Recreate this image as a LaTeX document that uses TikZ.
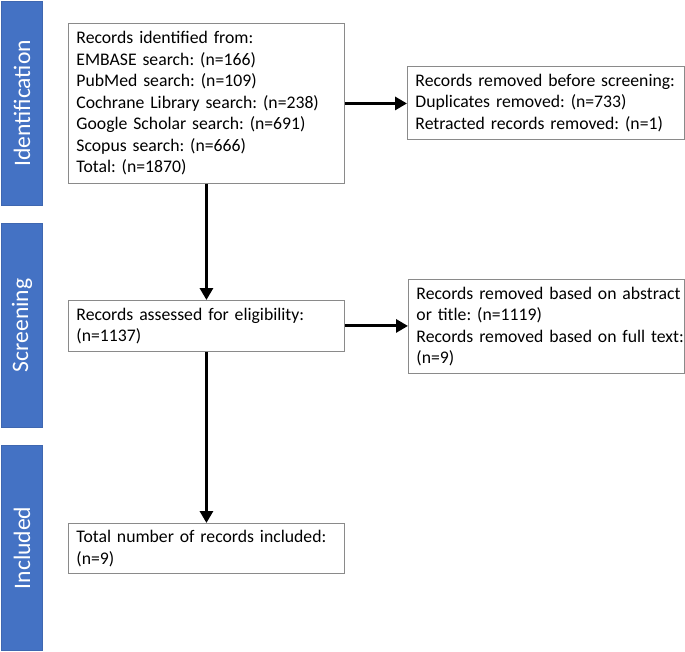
\documentclass[tikz,border=0pt]{standalone}
\usepackage{fontspec}
\setmainfont{Carlito}
\frenchspacing
\usetikzlibrary{arrows.meta}
\definecolor{barblue}{HTML}{4472C4}
\definecolor{barline}{HTML}{3F67B0}
\definecolor{boxline}{HTML}{8A8A8A}
\begin{document}
\begin{tikzpicture}[x=1pt,y=-1pt,
  box/.style={draw=boxline, line width=0.9pt, fill=white, anchor=north west,
    inner xsep=8pt, inner ysep=0pt, align=left,
    font=\fontsize{17.7}{21.5}\selectfont},
  bar/.style={draw=barline, fill=barblue, line width=0.9pt, anchor=north west,
    inner sep=0pt, minimum width=41pt},
  barlabel/.style={text=white, rotate=90, inner sep=0pt,
    font=\fontsize{23.6}{28}\selectfont},
  arr/.style={line width=3pt, -{Triangle[length=12pt,width=13pt]}}]
\useasboundingbox (0,0) rectangle (685,651);

% phase bars
\node[bar, minimum height=204pt] (bar1) at (1,1) {};
\node[bar, minimum height=204pt] (bar2) at (1,223) {};
\node[bar, minimum height=205pt] (bar3) at (1,445) {};
\node[barlabel] (lab1) at (bar1.center) {Identification};
\node[barlabel] (lab2) at (bar2.center) {Screening};
\node[barlabel] (lab3) at (bar3.center) {Included};

% boxes
\node[box, text width=260pt, minimum height=160pt] (b1) at (68,23)
  {Records identified from:\\
   EMBASE search: (n=166)\\
   PubMed search: (n=109)\\
   Cochrane Library search: (n=238)\\
   Google Scholar search: (n=691)\\
   Scopus search: (n=666)\\
   Total: (n=1870)};
\node[box, text width=261pt, minimum height=73pt] (b2) at (407,66)
  {\mbox{Records removed before screening:}\\
   Duplicates removed: (n=733)\\
   Retracted records removed: (n=1)};
\node[box, text width=260pt, minimum height=51pt] (b3) at (68,300)
  {Records assessed for eligibility:\\
   (n=1137)};
\node[box, text width=260pt, minimum height=94pt] (b4) at (408,279)
  {\mbox{Records removed based on abstract}\\
   or title: (n=1119)\\
   \mbox{Records removed based on full text:}\\
   (n=9)};
\node[box, text width=260pt, minimum height=50pt] (b5) at (68,523)
  {Total number of records included:\\
   (n=9)};

% connectors
\draw[arr] (b1.south) -- (b3.north);
\draw[arr] (b3.south) -- (b5.north);
\draw[arr] (b1.east) -- (b1.east -| b2.west);
\draw[arr] (b3.east) -- (b3.east -| b4.west);
\end{tikzpicture}
\end{document}
